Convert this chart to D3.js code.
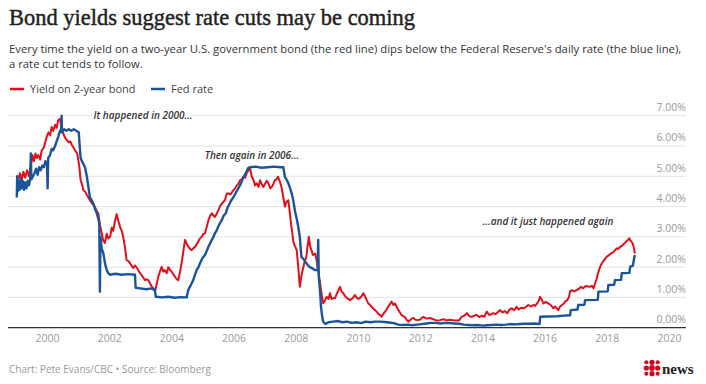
<!DOCTYPE html>
<html>
<head>
<meta charset="utf-8">
<script src="https://cdn.jsdelivr.net/npm/d3@7"></script>
<style>
  body { margin: 0; background: #fff; }
  svg { display: block; font-family: "Open Sans", sans-serif; }
</style>
</head>
<body>
<svg id="chart" width="706" height="384"></svg>
<script>
// values: [decimal year, percent]
var yieldPoints = [
  [1999.08, 4.9], [1999.13, 5.1], [1999.18, 4.85], [1999.24, 5.15], [1999.30, 4.95], [1999.36, 5.2],
  [1999.42, 5.0], [1999.47, 5.3], [1999.53, 5.7], [1999.58, 5.5], [1999.63, 5.75], [1999.67, 5.6],
  [1999.72, 5.7], [1999.78, 5.55], [1999.83, 5.85], [1999.90, 5.95], [1999.95, 6.15], [1999.99, 6.3],
  [2000.05, 6.45], [2000.10, 6.35], [2000.15, 6.63], [2000.20, 6.5], [2000.26, 6.7], [2000.31, 6.6],
  [2000.36, 6.85], [2000.42, 6.9], [2000.46, 6.6], [2000.52, 6.42], [2000.57, 6.3], [2000.63, 6.2],
  [2000.70, 6.12], [2000.75, 6.15], [2000.79, 6.05], [2000.85, 5.95], [2000.90, 5.86], [2000.97, 5.75],
  [2001.01, 5.5], [2001.04, 5.3], [2001.08, 4.87], [2001.12, 4.75], [2001.17, 4.54], [2001.22, 4.5],
  [2001.28, 4.38], [2001.33, 4.3], [2001.38, 4.21], [2001.45, 4.1], [2001.50, 4.05], [2001.54, 3.99],
  [2001.60, 3.85], [2001.65, 3.78], [2001.70, 3.4], [2001.76, 3.12], [2001.80, 2.9], [2001.86, 2.8],
  [2001.92, 3.1], [2001.97, 2.95], [2002.03, 3.0], [2002.08, 3.3], [2002.13, 3.2], [2002.18, 3.5],
  [2002.24, 3.75], [2002.30, 3.5], [2002.35, 3.33], [2002.40, 3.2], [2002.45, 3.0], [2002.50, 2.7],
  [2002.56, 2.23], [2002.62, 2.2], [2002.67, 2.13], [2002.72, 2.05], [2002.77, 1.97], [2002.83, 2.05],
  [2002.88, 2.0], [2002.96, 1.85], [2003.04, 1.74], [2003.10, 1.65], [2003.15, 1.57], [2003.21, 1.6],
  [2003.26, 1.57], [2003.32, 1.45], [2003.37, 1.35], [2003.42, 1.3], [2003.47, 1.19], [2003.52, 1.4],
  [2003.58, 1.68], [2003.63, 1.85], [2003.69, 2.01], [2003.74, 1.85], [2003.79, 1.9], [2003.85, 1.8],
  [2003.90, 2.0], [2003.96, 1.9], [2004.01, 1.85], [2004.07, 1.75], [2004.12, 1.68], [2004.17, 1.6],
  [2004.22, 1.57], [2004.27, 1.8], [2004.33, 2.13], [2004.38, 2.5], [2004.44, 2.9], [2004.50, 2.75],
  [2004.55, 2.67], [2004.60, 2.6], [2004.65, 2.56], [2004.70, 2.62], [2004.76, 2.67], [2004.81, 2.75],
  [2004.86, 2.84], [2004.92, 2.95], [2004.97, 3.0], [2005.03, 3.1], [2005.08, 3.12], [2005.14, 3.35],
  [2005.19, 3.55], [2005.25, 3.7], [2005.30, 3.78], [2005.35, 3.7], [2005.40, 3.66], [2005.45, 3.75],
  [2005.51, 3.88], [2005.56, 4.0], [2005.62, 4.1], [2005.67, 4.15], [2005.72, 4.21], [2005.78, 4.43],
  [2005.83, 4.43], [2005.90, 4.4], [2005.99, 4.54], [2006.05, 4.6], [2006.10, 4.7], [2006.15, 4.75],
  [2006.21, 4.87], [2006.27, 4.9], [2006.32, 5.0], [2006.37, 4.95], [2006.42, 5.1], [2006.48, 5.2],
  [2006.53, 5.27], [2006.58, 5.0], [2006.64, 4.87], [2006.69, 4.7], [2006.74, 4.77], [2006.80, 4.65],
  [2006.85, 4.87], [2006.90, 4.75], [2006.96, 4.65], [2007.01, 4.75], [2007.07, 4.85], [2007.12, 4.77],
  [2007.18, 4.6], [2007.23, 4.65], [2007.28, 4.75], [2007.33, 4.87], [2007.38, 4.9], [2007.43, 4.98],
  [2007.48, 4.85], [2007.54, 4.65], [2007.60, 4.3], [2007.65, 4.0], [2007.70, 4.15], [2007.76, 4.21],
  [2007.81, 3.78], [2007.85, 3.4], [2007.89, 3.12], [2007.92, 2.84], [2007.97, 2.7], [2008.03, 2.56],
  [2008.08, 2.01], [2008.13, 1.35], [2008.18, 1.7], [2008.24, 2.0], [2008.29, 2.2], [2008.34, 2.34],
  [2008.38, 2.7], [2008.42, 3.0], [2008.46, 2.7], [2008.50, 2.56], [2008.55, 2.4], [2008.62, 2.45],
  [2008.67, 2.23], [2008.72, 1.9], [2008.78, 1.47], [2008.83, 1.1], [2008.88, 0.81], [2008.94, 0.9],
  [2008.99, 1.02], [2009.05, 0.95], [2009.10, 1.14], [2009.15, 0.95], [2009.20, 0.97], [2009.26, 0.98],
  [2009.31, 1.1], [2009.37, 1.24], [2009.42, 1.35], [2009.47, 1.2], [2009.53, 1.14], [2009.58, 1.05],
  [2009.64, 0.98], [2009.69, 0.95], [2009.74, 0.91], [2009.80, 0.95], [2009.85, 1.0], [2009.90, 1.08],
  [2009.95, 1.0], [2010.01, 0.95], [2010.06, 0.98], [2010.12, 1.05], [2010.17, 1.14], [2010.22, 1.05],
  [2010.28, 0.91], [2010.33, 0.8], [2010.39, 0.75], [2010.44, 0.69], [2010.50, 0.62], [2010.55, 0.58],
  [2010.60, 0.53], [2010.66, 0.45], [2010.71, 0.42], [2010.76, 0.36], [2010.81, 0.45], [2010.87, 0.53],
  [2010.92, 0.6], [2010.97, 0.69], [2011.03, 0.78], [2011.08, 0.86], [2011.14, 0.75], [2011.19, 0.8],
  [2011.24, 0.7], [2011.30, 0.58], [2011.35, 0.5], [2011.40, 0.42], [2011.46, 0.38], [2011.51, 0.35],
  [2011.57, 0.25], [2011.62, 0.2], [2011.68, 0.25], [2011.73, 0.3], [2011.78, 0.32], [2011.85, 0.26],
  [2011.92, 0.25], [2012.00, 0.27], [2012.10, 0.36], [2012.20, 0.3], [2012.32, 0.32], [2012.42, 0.28],
  [2012.52, 0.24], [2012.64, 0.25], [2012.75, 0.28], [2012.85, 0.24], [2012.95, 0.26], [2013.05, 0.25],
  [2013.15, 0.24], [2013.25, 0.24], [2013.33, 0.36], [2013.42, 0.4], [2013.50, 0.48], [2013.58, 0.38],
  [2013.66, 0.36], [2013.74, 0.4], [2013.82, 0.42], [2013.90, 0.35], [2013.98, 0.4], [2014.06, 0.36],
  [2014.14, 0.53], [2014.22, 0.42], [2014.30, 0.45], [2014.35, 0.48], [2014.43, 0.45], [2014.50, 0.52],
  [2014.57, 0.58], [2014.65, 0.5], [2014.72, 0.55], [2014.80, 0.48], [2014.87, 0.6], [2014.94, 0.64],
  [2015.02, 0.58], [2015.10, 0.69], [2015.17, 0.6], [2015.25, 0.66], [2015.32, 0.64], [2015.40, 0.68],
  [2015.48, 0.75], [2015.56, 0.7], [2015.64, 0.75], [2015.70, 0.72], [2015.76, 0.8], [2015.82, 0.9],
  [2015.85, 1.02], [2015.90, 0.95], [2015.96, 0.8], [2016.04, 0.85], [2016.12, 0.8], [2016.20, 0.75],
  [2016.28, 0.64], [2016.34, 0.7], [2016.39, 0.64], [2016.44, 0.58], [2016.50, 0.7], [2016.56, 0.75],
  [2016.62, 0.8], [2016.66, 0.86], [2016.72, 0.9], [2016.78, 1.0], [2016.82, 1.2], [2016.88, 1.24],
  [2016.95, 1.2], [2017.03, 1.24], [2017.10, 1.28], [2017.17, 1.35], [2017.24, 1.3], [2017.32, 1.38],
  [2017.40, 1.36], [2017.46, 1.35], [2017.52, 1.38], [2017.57, 1.3], [2017.62, 1.45], [2017.67, 1.6],
  [2017.72, 1.8], [2017.78, 2.0], [2017.84, 2.12], [2017.89, 2.2], [2017.95, 2.28], [2017.99, 2.34],
  [2018.05, 2.38], [2018.10, 2.42], [2018.16, 2.46], [2018.21, 2.5], [2018.26, 2.55], [2018.32, 2.62],
  [2018.37, 2.6], [2018.42, 2.66], [2018.48, 2.7], [2018.53, 2.75], [2018.58, 2.8], [2018.64, 2.86],
  [2018.68, 2.9], [2018.72, 2.95], [2018.76, 2.88], [2018.80, 2.84], [2018.85, 2.73], [2018.88, 2.6],
  [2018.90, 2.45]
];

var fedPoints = [
  [1999.03, 4.3], [1999.04, 5.0], [1999.06, 4.5], [1999.09, 4.85], [1999.12, 4.55], [1999.15, 4.9],
  [1999.18, 4.6], [1999.22, 4.85], [1999.26, 4.55], [1999.30, 4.8], [1999.34, 4.6], [1999.38, 4.85],
  [1999.42, 4.7], [1999.46, 4.9], [1999.48, 5.75], [1999.50, 4.9], [1999.55, 5.0], [1999.60, 5.1],
  [1999.65, 5.25], [1999.70, 5.05], [1999.75, 5.3], [1999.80, 5.2], [1999.85, 5.35], [1999.90, 5.3],
  [1999.95, 5.5], [2000.00, 5.4], [2000.02, 4.6], [2000.04, 5.6], [2000.10, 5.7], [2000.15, 5.9],
  [2000.20, 5.86], [2000.26, 6.0], [2000.31, 6.15], [2000.36, 6.3], [2000.42, 6.5], [2000.46, 6.55],
  [2000.47, 7.0], [2000.48, 6.45], [2000.55, 6.55], [2000.62, 6.5], [2000.70, 6.55], [2000.78, 6.5],
  [2000.86, 6.55], [2000.94, 6.5], [2001.02, 6.45], [2001.05, 6.0], [2001.08, 5.6], [2001.11, 5.53],
  [2001.17, 5.4], [2001.22, 5.3], [2001.28, 5.0], [2001.33, 4.65], [2001.38, 4.3], [2001.44, 4.2],
  [2001.49, 4.1], [2001.55, 3.9], [2001.60, 3.78], [2001.65, 3.6], [2001.68, 3.45], [2001.70, 1.19],
  [2001.72, 3.0], [2001.76, 2.6], [2001.81, 2.46], [2001.87, 2.1], [2001.92, 1.9], [2001.97, 1.8],
  [2002.03, 1.75], [2002.20, 1.78], [2002.40, 1.75], [2002.60, 1.77], [2002.83, 1.75], [2002.85, 1.32],
  [2003.00, 1.3], [2003.20, 1.27], [2003.35, 1.3], [2003.47, 1.25], [2003.50, 1.02], [2003.70, 1.0],
  [2003.90, 1.02], [2004.10, 0.99], [2004.30, 1.01], [2004.49, 1.0], [2004.54, 1.24], [2004.62, 1.4],
  [2004.70, 1.57], [2004.76, 1.75], [2004.81, 1.9], [2004.87, 2.0], [2004.92, 2.13], [2005.00, 2.3],
  [2005.08, 2.4], [2005.14, 2.55], [2005.19, 2.67], [2005.25, 2.8], [2005.30, 2.9], [2005.35, 3.0],
  [2005.40, 3.12], [2005.45, 3.2], [2005.50, 3.33], [2005.56, 3.45], [2005.62, 3.55], [2005.68, 3.7],
  [2005.75, 3.78], [2005.80, 3.95], [2005.85, 4.05], [2005.92, 4.2], [2005.99, 4.3], [2006.07, 4.45],
  [2006.15, 4.6], [2006.23, 4.75], [2006.31, 4.95], [2006.39, 5.1], [2006.47, 5.27], [2006.53, 5.3],
  [2006.70, 5.32], [2006.90, 5.28], [2007.10, 5.3], [2007.30, 5.32], [2007.50, 5.3], [2007.60, 5.3],
  [2007.65, 4.98], [2007.70, 4.9], [2007.76, 4.77], [2007.82, 4.6], [2007.87, 4.43], [2007.92, 4.2],
  [2007.97, 3.88], [2008.03, 3.6], [2008.08, 3.33], [2008.13, 3.0], [2008.18, 2.34], [2008.26, 2.25],
  [2008.34, 2.13], [2008.40, 2.05], [2008.45, 2.0], [2008.55, 1.95], [2008.62, 1.9], [2008.70, 1.9],
  [2008.72, 2.9], [2008.74, 1.68], [2008.78, 1.2], [2008.81, 0.69], [2008.85, 0.35], [2008.88, 0.2],
  [2008.95, 0.12], [2009.05, 0.18], [2009.20, 0.2], [2009.35, 0.22], [2009.50, 0.18], [2009.65, 0.2],
  [2009.80, 0.16], [2009.95, 0.18], [2010.10, 0.15], [2010.25, 0.2], [2010.40, 0.18], [2010.55, 0.2],
  [2010.70, 0.2], [2010.85, 0.19], [2011.00, 0.17], [2011.15, 0.15], [2011.30, 0.1], [2011.45, 0.09],
  [2011.60, 0.1], [2011.75, 0.08], [2011.90, 0.1], [2012.05, 0.12], [2012.20, 0.14], [2012.35, 0.16],
  [2012.50, 0.16], [2012.65, 0.14], [2012.80, 0.16], [2012.95, 0.15], [2013.10, 0.14], [2013.25, 0.13],
  [2013.40, 0.1], [2013.55, 0.09], [2013.70, 0.08], [2013.85, 0.09], [2014.00, 0.07], [2014.15, 0.08],
  [2014.30, 0.09], [2014.45, 0.1], [2014.60, 0.09], [2014.75, 0.1], [2014.90, 0.12], [2015.05, 0.11],
  [2015.20, 0.12], [2015.35, 0.13], [2015.50, 0.13], [2015.65, 0.14], [2015.84, 0.12], [2015.86, 0.36],
  [2016.10, 0.37], [2016.40, 0.38], [2016.60, 0.4], [2016.82, 0.41], [2016.84, 0.58], [2017.06, 0.6],
  [2017.08, 0.75], [2017.28, 0.76], [2017.30, 0.91], [2017.71, 0.92], [2017.73, 1.19], [2018.03, 1.2],
  [2018.05, 1.41], [2018.24, 1.42], [2018.26, 1.57], [2018.46, 1.58], [2018.48, 1.8], [2018.73, 1.81],
  [2018.75, 2.01], [2018.84, 2.05], [2018.88, 2.3], [2018.90, 2.4]
];

var yearTicks = [2000, 2002, 2004, 2006, 2008, 2010, 2012, 2014, 2016, 2018, 2020];
var rateTicks = [0, 1, 2, 3, 4, 5, 6, 7];
var notes = [
  { year: 2003.09, value: 6.88, text: "It happened in 2000..." },
  { year: 2006.59, value: 5.57, text: "Then again in 2006..." },
  { year: 2016.11, value: 3.39, text: "...and it just happened again" }
];

var red = "#e3101b", blue = "#1a559b";

function toDate(t) {
  var y = Math.floor(t), a = new Date(y, 0, 1), b = new Date(y + 1, 0, 1);
  return new Date(+a + (t - y) * (b - a));
}

var svg = d3.select("#chart");

var x = d3.scaleTime()
    .domain([toDate(1998.746), toDate(2020.547)])
    .range([8, 686]);
var y = d3.scaleLinear()
    .domain([0, 7])
    .range([327.7, 115.7]);

// header
var title = svg.append("text")
    .attr("x", 9).attr("y", 25)
    .style("font-family", "'Liberation Serif', serif")
    .style("font-size", "23px")
    .attr("fill", "#222").attr("stroke", "#222").attr("stroke-width", 0.45)
    .text("Bond yields suggest rate cuts may be coming");
var tw = title.node().getComputedTextLength();
if (Math.abs(tw - 406) > 6) title.attr("textLength", 406).attr("lengthAdjust", "spacingAndGlyphs");

svg.append("text").attr("x", 9).attr("y", 53)
    .style("font-size", "11.3px").attr("fill", "#333")
    .text("Every time the yield on a two-year U.S. government bond (the red line) dips below the Federal Reserve's daily rate (the blue line),");
svg.append("text").attr("x", 9).attr("y", 68)
    .style("font-size", "11.3px").attr("fill", "#333")
    .text("a rate cut tends to follow.");

// legend
var legend = svg.append("g").attr("transform", "translate(0,89)");
[["Yield on 2-year bond", red, 10], ["Fed rate", blue, 151]].forEach(function(d) {
  legend.append("line").attr("x1", d[2]).attr("x2", d[2] + 14)
      .attr("stroke", d[1]).attr("stroke-width", 2.5);
  legend.append("text").attr("x", d[2] + 20).attr("y", 4)
      .style("font-size", "11px").attr("fill", "#444").text(d[0]);
});

// grid + y labels
var grid = svg.append("g");
grid.selectAll("line").data(rateTicks.filter(function(d) { return d > 0; })).join("line")
    .attr("x1", 8).attr("x2", 686)
    .attr("y1", function(d) { return y(d); }).attr("y2", function(d) { return y(d); })
    .attr("stroke", "#e3e3e3").attr("stroke-width", 1);
grid.selectAll("text").data(rateTicks).join("text")
    .attr("x", 686).attr("y", function(d) { return y(d) - 4.5; })
    .attr("text-anchor", "end")
    .style("font-size", "10.5px").attr("fill", "#9a9a9a")
    .text(function(d) { return d3.format(".2f")(d) + "%"; });

// x axis
var xAxis = svg.append("g")
    .attr("transform", "translate(0," + y(0) + ")")
    .call(d3.axisBottom(x)
      .tickValues(yearTicks.map(function(d) { return new Date(d, 0, 1); }))
      .tickSize(0).tickPadding(7)
      .tickFormat(d3.timeFormat("%Y")));
xAxis.select(".domain").remove();
xAxis.selectAll("text").style("font-family", "'Open Sans', sans-serif")
    .style("font-size", "10.5px").attr("fill", "#9a9a9a");

// lines
var line = d3.line()
    .x(function(d) { return x(toDate(d[0])); })
    .y(function(d) { return y(d[1]); });

svg.append("path").datum(yieldPoints)
    .attr("fill", "none").attr("stroke", red).attr("stroke-width", 2)
    .attr("stroke-linejoin", "round").attr("d", line);
svg.append("path").datum(fedPoints)
    .attr("fill", "none").attr("stroke", blue).attr("stroke-width", 2.4)
    .attr("stroke-linejoin", "round").attr("d", line);

svg.append("line").attr("x1", 8).attr("x2", 686)
    .attr("y1", y(0)).attr("y2", y(0))
    .attr("stroke", "#333").attr("stroke-width", 1.3);

// annotations
svg.append("g").selectAll("text").data(notes).join("text")
    .attr("x", function(d) { return x(toDate(d.year)); })
    .attr("y", function(d) { return y(d.value); })
    .attr("text-anchor", "middle")
    .style("font-size", "10px").style("font-style", "italic").style("font-weight", 600)
    .attr("fill", "#333").attr("stroke", "#fff").attr("stroke-width", 4)
    .attr("paint-order", "stroke")
    .text(function(d) { return d.text; });

// footer
svg.append("text").attr("x", 9).attr("y", 373)
    .style("font-size", "10px").attr("fill", "#999")
    .text("Chart: Pete Evans/CBC \u2022 Source: Bloomberg");

// CBC gem + "news"
var gem = svg.append("g").attr("transform", "translate(652,368)");
[[-6, -6, 2], [0, -6, 2.6], [6, -6, 2], [-6, 0, 2.6], [0, 0, 2.9], [6, 0, 2.6], [-6, 6, 2], [0, 6, 2.6], [6, 6, 2]]
  .forEach(function(c) {
    gem.append("circle").attr("cx", c[0] * 0.95).attr("cy", c[1] * 0.95).attr("r", c[2]).attr("fill", "#d9001a");
  });
svg.append("text").attr("x", 662).attr("y", 374)
    .style("font-family", "'Liberation Serif', serif").style("font-weight", "bold")
    .style("font-size", "15px").attr("fill", "#222").text("news");
</script>
</body>
</html>
